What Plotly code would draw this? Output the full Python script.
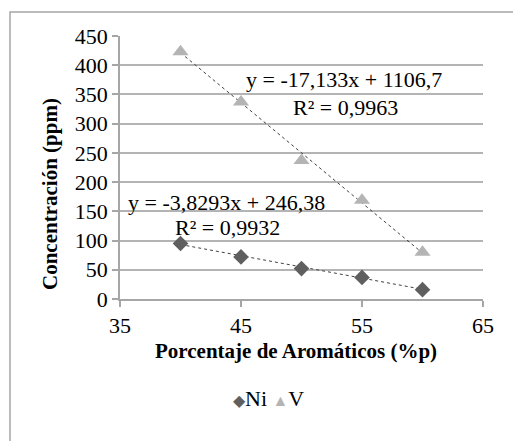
import plotly.graph_objects as go

x_vals = [40, 45, 50, 55, 60]
ni_vals = [95, 72, 52, 37, 16]
v_vals = [423, 337, 237, 169, 80]

ni_slope, ni_intercept = -3.8293, 246.38
v_slope, v_intercept = -17.133, 1106.7

x_ticks = [35, 45, 55, 65]
y_ticks = [0, 50, 100, 150, 200, 250, 300, 350, 400, 450]

FONT = "Liberation Serif"
W, H = 513, 441
L, R, T, B = 120, 30, 36, 142
pw, ph = W - L - R, H - T - B

ni_fit = [ni_slope * x + ni_intercept for x in x_vals]
v_fit = [v_slope * x + v_intercept for x in x_vals]

NI_COLOR = "#5f5f5f"
V_COLOR = "#b4b4b4"

fig = go.Figure()
fig.add_trace(go.Scatter(x=[x_vals[0], x_vals[-1]], y=[v_fit[0], v_fit[-1]], mode="lines",
                         line=dict(color="#404040", width=1, dash="dot"), showlegend=False, hoverinfo="skip"))
fig.add_trace(go.Scatter(x=[x_vals[0], x_vals[-1]], y=[ni_fit[0], ni_fit[-1]], mode="lines",
                         line=dict(color="#404040", width=1, dash="dot"), showlegend=False, hoverinfo="skip"))
fig.add_trace(go.Scatter(x=x_vals, y=ni_vals, mode="markers", name="Ni", showlegend=False,
                         marker=dict(symbol="diamond", size=12, color=NI_COLOR)))
fig.add_trace(go.Scatter(x=x_vals, y=v_vals, mode="markers", name="V", showlegend=False,
                         marker=dict(symbol="triangle-up", size=14, color=V_COLOR)))

def px2x(px):
    return 35 + (px - L) / pw * 30

def py2y(py):
    return (H - B - py) / ph * 450

def pxp(px):
    return (px - L) / pw

def pyp(py):
    return (H - B - py) / ph

ann = [
    ("y = -17,133x + 1106,7", 344, 79),
    ("R² = 0,9963", 345, 107),
    ("y = -3,8293x + 246,38", 226, 202),
    ("R² = 0,9932", 227, 227),
]
for text, px, py in ann:
    fig.add_annotation(x=px2x(px), y=py2y(py), text=text, showarrow=False,
                       font=dict(family=FONT, size=22, color="#000000"))

# axis titles
fig.add_annotation(xref="paper", yref="paper", x=pxp(296), y=pyp(365), showarrow=False,
                   text="<b>Porcentaje de Aromáticos (%p)</b>",
                   font=dict(family=FONT, size=21, color="#000000"))
fig.add_annotation(xref="paper", yref="paper", x=pxp(36), y=pyp(194), showarrow=False,
                   textangle=-90, text="<b>Concentración (ppm)</b>",
                   font=dict(family=FONT, size=21, color="#000000"))
# legend
fig.add_annotation(xref="paper", yref="paper", x=pxp(268), y=pyp(413), showarrow=False,
                   text=f"<span style='color:{NI_COLOR};font-size:16px'>◆</span>Ni "
                        f"<span style='color:{V_COLOR};font-size:16px'>▲</span>V",
                   font=dict(family=FONT, size=22, color="#000000"))

fig.add_shape(type="rect", xref="paper", yref="paper",
              x0=pxp(10), x1=pxp(W + 20),
              y0=pyp(H + 20), y1=pyp(12),
              line=dict(color="#a6a6a6", width=1.5), fillcolor="rgba(0,0,0,0)", layer="above")

fig.update_layout(
    width=W, height=H,
    margin=dict(l=L, r=R, t=T, b=B, autoexpand=False),
    paper_bgcolor="white", plot_bgcolor="white",
    font=dict(family=FONT, size=22, color="#000000"),
    showlegend=False,
    xaxis=dict(range=[35, 65], tickvals=x_ticks, showgrid=False, zeroline=False, automargin=False,
               showline=True, linecolor="#a6a6a6", linewidth=1.5,
               ticks="outside", ticklen=6, tickcolor="#a6a6a6", tickwidth=1.5,
               tickfont=dict(family=FONT, size=22)),
    yaxis=dict(range=[0, 450], tickvals=y_ticks, showgrid=True, gridcolor="#b4b4b4", gridwidth=1.5,
               zeroline=False, automargin=False, showline=True, linecolor="#a6a6a6", linewidth=1.5,
               ticks="outside", ticklen=6, tickcolor="#a6a6a6", tickwidth=1.5,
               tickfont=dict(family=FONT, size=22)),
)

fig.write_html("out.html", config={"displayModeBar": False},
               post_script="document.body.style.margin='0';document.body.style.overflow='hidden';")
